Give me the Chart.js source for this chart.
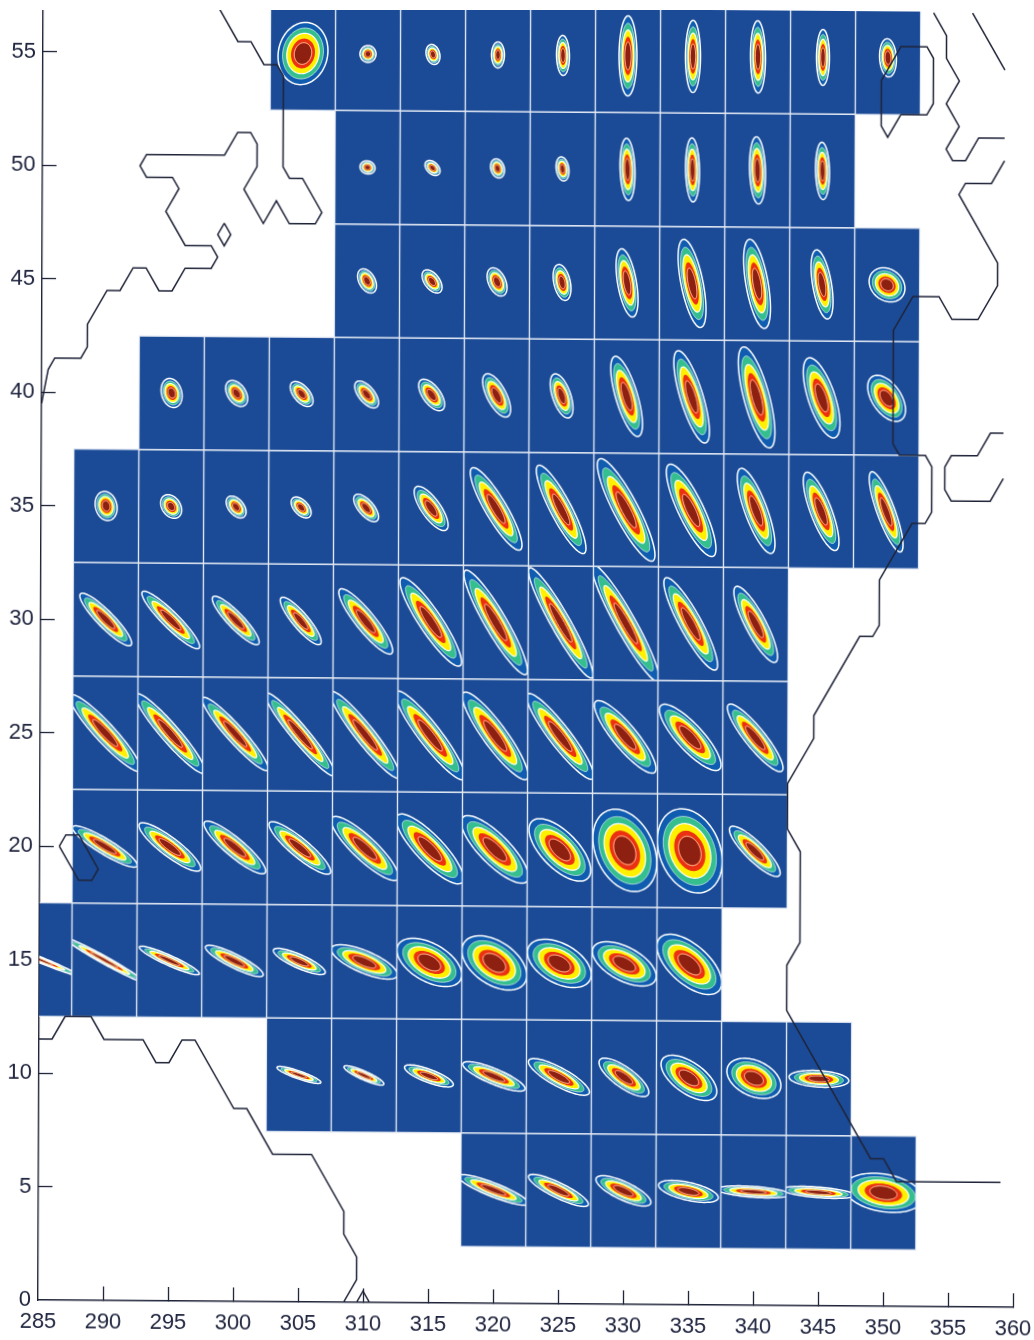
<!DOCTYPE html>
<html>
<head>
<meta charset="utf-8">
<title>Spatial covariance kernels</title>
<script src="https://cdn.jsdelivr.net/npm/chart.js@4"></script>
<style>
  html, body { margin: 0; padding: 0; background: #fff; }
  /* the original is a slightly skewed scan, cut off flat at the top */
  #wrap { position: relative; width: 1034px; height: 1340px; overflow: hidden; clip-path: inset(10px 0 0 0); }
  #kernels { display: block; transform-origin: 0 0; transform: matrix(1, 0.0075, -0.004, 1, 5.2, -0.285); }
</style>
</head>
<body>
<div id="wrap"><canvas id="kernels" width="1034" height="1340"></canvas></div>
<script>
const lonTicks = [285, 290, 295, 300, 305, 310, 315, 320, 325, 330, 335, 340, 345, 350, 355, 360];
const latTicks = [0, 5, 10, 15, 20, 25, 30, 35, 40, 45, 50, 55];

// one row per latitude band, cells run east in 5 degree steps from the first longitude
const rowLats = [55, 50, 45, 40, 35, 30, 25, 20, 15, 10, 5];
const rowFirstLons = [305, 310, 310, 295, 290, 290, 290, 290, 285, 305, 320];

// half extent of the outer contour, degrees of longitude
const lonSpread = [
  [1.92, 0.62, 0.54, 0.5, 0.5, 0.69, 0.58, 0.58, 0.5, 0.65],
  [0.58, 0.58, 0.54, 0.5, 0.58, 0.54, 0.62, 0.54],
  [0.73, 0.77, 0.77, 0.69, 0.85, 1.08, 1.04, 0.85, 1.38],
  [0.81, 0.85, 0.88, 0.92, 1, 1.08, 0.88, 1.23, 1.38, 1.42, 1.42, 1.46],
  [0.85, 0.81, 0.77, 0.77, 0.96, 1.31, 2, 1.92, 2.23, 1.92, 1.46, 1.38, 1.31],
  [2, 2.23, 1.81, 1.58, 2.08, 2.38, 2.46, 2.5, 2.6, 2.08, 1.69],
  [2.75, 2.7, 2.55, 2.7, 2.7, 2.7, 2.55, 2.6, 2.38, 2.38, 2.15],
  [2.5, 2.38, 2.38, 2.38, 2.6, 2.6, 2.6, 2.38, 2.46, 2.5, 1.96],
  [3, 3, 2.31, 2.23, 2, 2.55, 2.5, 2.5, 2.46, 2.46, 2.5],
  [1.69, 1.54, 1.88, 2.4, 2.35, 1.92, 2.15, 2.08, 2.3],
  [2.7, 2.31, 2.12, 2.3, 2.8, 2.8, 3]
];

// half extent of the outer contour, degrees of latitude
const latSpread = [
  [1.37, 0.37, 0.44, 0.57, 0.88, 1.76, 1.59, 1.59, 1.23, 0.84],
  [0.29, 0.33, 0.42, 0.53, 1.37, 1.41, 1.48, 1.26],
  [0.53, 0.51, 0.62, 0.79, 1.5, 1.94, 1.96, 1.52, 0.75],
  [0.64, 0.57, 0.55, 0.59, 0.69, 0.95, 0.97, 1.76, 2.03, 2.22, 1.76, 1.01],
  [0.64, 0.52, 0.48, 0.46, 0.6, 0.97, 1.81, 1.94, 2.25, 2.03, 1.87, 1.72, 1.76],
  [1.15, 1.26, 1.06, 1.04, 1.43, 1.94, 2.29, 2.42, 2.55, 2.03, 1.67],
  [1.68, 1.75, 1.6, 1.82, 1.9, 1.95, 1.92, 1.88, 1.59, 1.45, 1.48],
  [0.9, 1.06, 1.15, 1.15, 1.4, 1.53, 1.48, 1.37, 1.81, 1.85, 1.1],
  [0.7, 0.95, 0.62, 0.68, 0.57, 0.75, 1.06, 1.19, 1.06, 0.97, 1.32],
  [0.37, 0.42, 0.48, 0.64, 0.8, 0.84, 0.99, 0.88, 0.37],
  [0.66, 0.7, 0.66, 0.48, 0.26, 0.26, 0.86]
];

// correlation between longitude and latitude, sets the tilt
const correlation = [
  [0.1, 0, -0.2, 0, -0.05, 0, 0, -0.05, 0, -0.1],
  [-0.1, -0.4, -0.2, -0.2, -0.15, -0.1, -0.15, -0.1],
  [-0.4, -0.5, -0.4, -0.35, -0.5, -0.6, -0.55, -0.5, -0.2],
  [-0.2, -0.4, -0.55, -0.6, -0.6, -0.65, -0.55, -0.7, -0.75, -0.7, -0.65, -0.5],
  [-0.15, -0.3, -0.45, -0.5, -0.65, -0.75, -0.88, -0.88, -0.88, -0.83, -0.78, -0.78, -0.83],
  [-0.9, -0.92, -0.89, -0.87, -0.89, -0.9, -0.92, -0.94, -0.94, -0.89, -0.85],
  [-0.93, -0.94, -0.94, -0.95, -0.94, -0.92, -0.9, -0.92, -0.87, -0.83, -0.89],
  [-0.9, -0.88, -0.89, -0.89, -0.87, -0.84, -0.8, -0.65, -0.3, -0.25, -0.86],
  [-0.98, -0.98, -0.92, -0.87, -0.82, -0.72, -0.5, -0.45, -0.45, -0.55, -0.6],
  [-0.87, -0.87, -0.77, -0.82, -0.82, -0.77, -0.6, -0.35, -0.2],
  [-0.87, -0.85, -0.75, -0.55, -0.4, -0.45, -0.25]
];

// contour levels as a share of the outer contour, with their fill
const levelShares = [1, 0.82, 0.65, 0.48, 0.33];
const levelColors = ["#0f5cb0", "#36bf8e", "#fff000", "#ec3012", "#8d2010"];

// coastlines, [lon, lat]
const coastNorthAmerica = [[298.5, 57], [300, 55.5], [301, 55.5], [302, 54.5], [303, 54.5], [303.5, 54], [303.5, 50], [304, 49.5], [305, 49.5], [306.5, 48], [306, 47.5], [304, 47.5], [303, 48.5], [302, 47.5], [300.5, 49], [301.5, 50], [301.5, 51], [301, 51.5], [300, 51.5], [299, 50.5], [293, 50.5], [292.5, 50], [293, 49.5], [295, 49.5], [295.5, 49], [294.5, 48], [296, 46.5], [298, 46.5], [298.5, 46], [298, 45.5], [296, 45.5], [295, 44.5], [294, 44.5], [293, 45.5], [292, 45.5], [291, 44.5], [290, 44.5], [288.5, 43], [288.5, 42], [288, 41.5], [286, 41.5], [285.5, 41], [285, 39.5]];
const coastNewfoundland = [[299, 47.5], [299.5, 47], [299, 46.5], [298.5, 47], [299, 47.5]];
const coastScandinavia = [[353.5, 57], [354.5, 56], [354.5, 55], [355.5, 54], [354.5, 53], [355.5, 52], [354.5, 51], [355, 50.5], [356, 50.5], [357, 51.5], [359, 51.5]];
const coastNorway = [[356.5, 57], [359, 54.5]];
const coastBritain = [[351, 52.5], [350, 51.5], [349.5, 52], [349.5, 54], [351, 55.5], [353, 55.5], [353.5, 55], [353.5, 53], [353, 52.5], [351, 52.5]];
const coastEuropeAfrica = [[359, 50.5], [358, 49.5], [356, 49.5], [355.5, 49], [358.5, 46], [358.5, 45], [357, 43.5], [355, 43.5], [354, 44.5], [352, 44.5], [350.5, 43], [350.5, 38], [351, 37.5], [353, 37.5], [353.5, 37], [353.5, 35], [353, 34.5], [352, 34.5], [349.5, 32], [349.5, 30], [349, 29.5], [348, 29.5], [344.5, 26], [344.5, 25], [342.5, 23], [342.5, 21], [343.5, 20], [343.5, 16], [342.5, 15], [342.5, 13], [343.5, 12], [349, 6.5], [350, 6.5], [351, 5.5], [359, 5.5]];
const coastItaly = [[359, 38.5], [358, 38.5], [357, 37.5], [355, 37.5], [354.5, 37], [354.5, 36], [355, 35.5], [358, 35.5], [359, 36.5]];
const coastSouthAmerica = [[285, 11.5], [286, 11.5], [287, 12.5], [289, 12.5], [290, 11.5], [293, 11.5], [294, 10.5], [295, 10.5], [296, 11.5], [297, 11.5], [300, 8.5], [301, 8.5], [303, 6.5], [306, 6.5], [308.5, 4], [308.5, 3], [309.5, 2], [309.5, 1], [308.5, 0]];
const coastMarajo = [[309.5, 0], [310, 0.5], [310.5, 0]];
const coastCuba = [[286.5, 20], [287, 20.5], [288, 20.5], [289.5, 19], [289, 18.5], [288, 18.5], [286.5, 20]];

const coastlines = [coastNorthAmerica, coastNewfoundland, coastScandinavia, coastNorway, coastBritain, coastEuropeAfrica, coastItaly, coastSouthAmerica, coastMarajo, coastCuba];

const CELL_BG = "#1b4b96";
const CELL_EDGE = "#e2e9f4";
const LINE_COLOR = "#1f2338";
const TEXT_COLOR = "#20253f";

const cells = [];
rowLats.forEach((lat, r) => {
  lonSpread[r].forEach((sx, c) => {
    cells.push({ x: rowFirstLons[r] + c * 5, y: lat, sx: sx, sy: latSpread[r][c], rho: correlation[r][c] });
  });
});

function tracePath(ctx, xs, ys, cell, share) {
  const root = Math.sqrt(1 - cell.rho * cell.rho);
  ctx.beginPath();
  for (let i = 0; i < 90; i++) {
    const t = (i / 90) * Math.PI * 2;
    const lon = cell.x + share * cell.sx * Math.cos(t);
    const lat = cell.y + share * cell.sy * (cell.rho * Math.cos(t) + root * Math.sin(t));
    const px = xs.getPixelForValue(lon);
    const py = ys.getPixelForValue(lat);
    if (i === 0) ctx.moveTo(px, py);
    else ctx.lineTo(px, py);
  }
  ctx.closePath();
}

const kernelPlugin = {
  id: "kernels",
  beforeDatasetsDraw(chart) {
    const { ctx, chartArea, scales } = chart;
    const xs = scales.x;
    const ys = scales.y;
    ctx.save();
    ctx.beginPath();
    ctx.rect(chartArea.left, chartArea.top, chartArea.width, chartArea.height);
    ctx.clip();

    cells.forEach((cell) => {
      const left = xs.getPixelForValue(cell.x - 2.5);
      const right = xs.getPixelForValue(cell.x + 2.5);
      const top = ys.getPixelForValue(cell.y + 2.5);
      const bottom = ys.getPixelForValue(cell.y - 2.5);
      ctx.fillStyle = CELL_BG;
      ctx.fillRect(left, top, right - left, bottom - top);

      ctx.save();
      ctx.beginPath();
      ctx.rect(left, top, right - left, bottom - top);
      ctx.clip();
      levelShares.forEach((share, i) => {
        tracePath(ctx, xs, ys, cell, share);
        ctx.fillStyle = levelColors[i];
        ctx.fill();
      });
      ctx.strokeStyle = "#ffffff";
      ctx.lineWidth = 1.5;
      tracePath(ctx, xs, ys, cell, 1);
      ctx.stroke();
      ctx.lineWidth = 0.9;
      ctx.strokeStyle = "rgba(240,248,250,0.7)";
      tracePath(ctx, xs, ys, cell, 0.82);
      ctx.stroke();
      ctx.strokeStyle = "#ffffff";
      ctx.lineWidth = 1.2;
      tracePath(ctx, xs, ys, cell, 0.65);
      ctx.stroke();
      ctx.lineWidth = 1;
      ctx.strokeStyle = "#f0c8a0";
      tracePath(ctx, xs, ys, cell, 0.35);
      ctx.stroke();
      ctx.restore();
    });

    ctx.strokeStyle = CELL_EDGE;
    ctx.lineWidth = 1.2;
    cells.forEach((cell) => {
      const left = xs.getPixelForValue(cell.x - 2.5);
      const right = xs.getPixelForValue(cell.x + 2.5);
      const top = ys.getPixelForValue(cell.y + 2.5);
      const bottom = ys.getPixelForValue(cell.y - 2.5);
      ctx.strokeRect(left, top, right - left, bottom - top);
    });
    ctx.restore();
  }
};

const datasets = [{ label: "cells", data: cells, pointRadius: 0, showLine: false }];
coastlines.forEach((coast, i) => {
  datasets.push({
    label: "coast " + i,
    data: coast.map((p) => ({ x: p[0], y: p[1] })),
    showLine: true,
    pointRadius: 0,
    borderColor: LINE_COLOR,
    borderWidth: 1.5,
    tension: 0
  });
});

function pinAxis(scale, thickness) {
  if (scale.isHorizontal()) scale.height = thickness;
  else scale.width = thickness;
  scale.paddingLeft = 0;
  scale.paddingRight = 0;
  scale.paddingTop = 0;
  scale.paddingBottom = 0;
}

// no tick at the corner where the two axes meet
const tickShade = (ctx) => (ctx.index === 0 ? "rgba(0,0,0,0)" : LINE_COLOR);

new Chart(document.getElementById("kernels"), {
  type: "scatter",
  data: { datasets: datasets },
  plugins: [kernelPlugin],
  options: {
    responsive: false,
    animation: false,
    layout: { padding: { left: 0, right: 21, top: 5, bottom: 0 } },
    plugins: { legend: { display: false }, tooltip: { enabled: false } },
    scales: {
      x: {
        type: "linear",
        min: 285,
        max: 360,
        afterBuildTicks: (scale) => { scale.ticks = lonTicks.map((v) => ({ value: v })); },
        afterFit: (scale) => pinAxis(scale, 40),
        border: { color: LINE_COLOR, width: 1.4 },
        grid: { drawOnChartArea: false, tickLength: -14, tickColor: tickShade, tickWidth: 1.3 },
        ticks: { color: TEXT_COLOR, font: { family: "'Liberation Sans'", size: 22 }, padding: 23, maxRotation: 0, autoSkip: false }
      },
      y: {
        type: "linear",
        min: 0,
        max: 57.05,
        afterBuildTicks: (scale) => { scale.ticks = latTicks.map((v) => ({ value: v })); },
        afterFit: (scale) => pinAxis(scale, 38),
        border: { color: LINE_COLOR, width: 1.4 },
        grid: { drawOnChartArea: false, tickLength: -14, tickColor: tickShade, tickWidth: 1.3 },
        ticks: { color: TEXT_COLOR, font: { family: "'Liberation Sans'", size: 22 }, padding: 21, autoSkip: false }
      }
    }
  }
});
</script>
</body>
</html>
